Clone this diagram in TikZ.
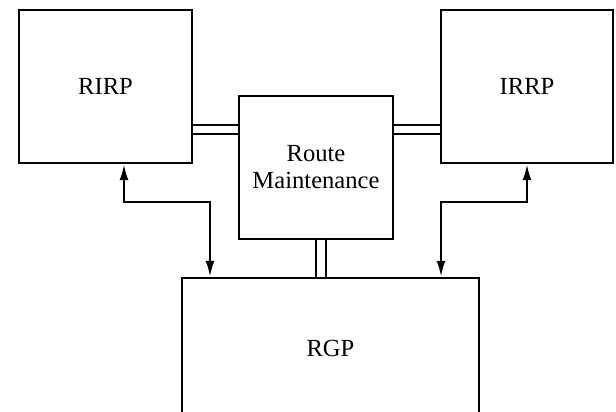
\documentclass[tikz,border=0pt]{standalone}
\usepackage{fontspec}
\setmainfont{Liberation Serif}
\usetikzlibrary{arrows.meta}
\tikzset{
	block/.style={draw, line width=2.3pt, inner sep=0pt, align=center, font=\fontsize{24.6}{27}\selectfont},
	link/.style={line width=2pt, double, double distance=7.3pt},
	flow/.style={line width=2.3pt, {Latex[length=16pt,width=9pt]}-{Latex[length=16pt,width=9pt]}}
}

\begin{document}
\begin{tikzpicture}[x=1pt, y=-1pt]
			%%%%% START %%%%%
			
			\useasboundingbox (0, 0) rectangle (616, 412);
			\clip (0, 0) rectangle (616, 412);
			
			\node[block, minimum width=173, minimum height=153] (rirp) at (105.5, 86.5) {RIRP};
			\node[block, minimum width=172, minimum height=153] (irrp) at (527, 86.5) {IRRP};
			\node[block, minimum width=154, minimum height=143] (rm) at (316, 167.3) {Route\\Maintenance};
			\node[block, minimum width=297, minimum height=141] (rgp) at (330.5, 348.5) {RGP};
			
			\coordinate (tie) at (0, 129.5);
			\coordinate (tap) at (321, 0);
			\coordinate (bendA) at (124, 201.7);
			\coordinate (bendB) at (210, 201.7);
			\coordinate (bendC) at (441, 201.7);
			\coordinate (bendD) at (527, 201.7);
			
			\draw[link] (rirp.east |- tie) -- (rm.west |- tie);
			\draw[link] (rm.east |- tie) -- (irrp.west |- tie);
			\draw[link] (rm.south -| tap) -- (rgp.north -| tap);
			
			\draw[flow] (rirp.south -| bendA) -- (bendA) -- (bendB) -- (bendB |- rgp.north);
			\draw[flow] (irrp.south -| bendD) -- (bendD) -- (bendC) -- (bendC |- rgp.north);
			
			%%%%% END %%%%%
\end{tikzpicture}
\end{document}
